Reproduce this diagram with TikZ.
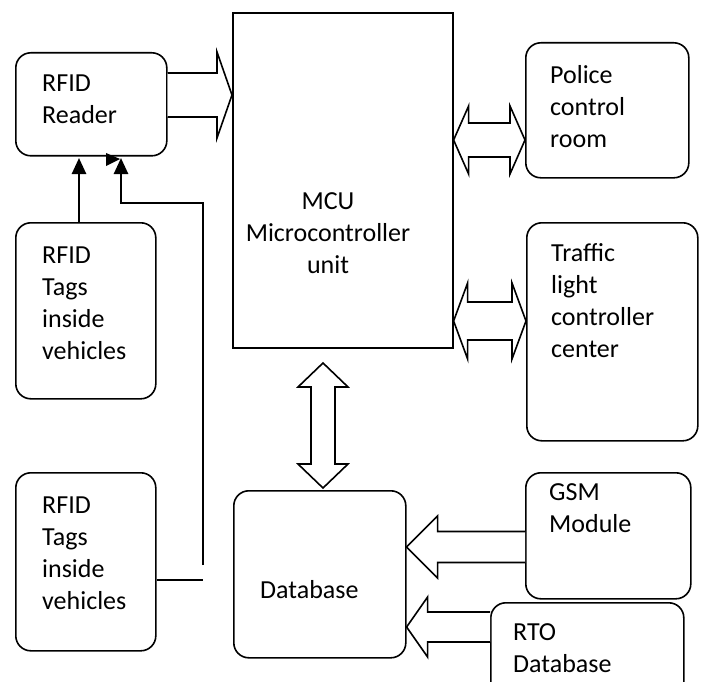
\documentclass[tikz,border=0pt]{standalone}
\usepackage{fontspec}
\setmainfont{Carlito}
\usetikzlibrary{calc,arrows.meta}

% single block arrow: tail, tip, shaft half-width, head half-width, head length (negative points left)
\newcommand\blockarrow[5]{%
  \draw[blk] ($(#1)+(0,-#3)$) -- ($(#2)+({-(#5)},-#3)$) -- ($(#2)+({-(#5)},-#4)$) -- (#2)
    -- ($(#2)+({-(#5)},#4)$) -- ($(#2)+({-(#5)},#3)$) -- ($(#1)+(0,#3)$);}
% horizontal double block arrow: left tip, right tip, shaft half, head half, head length
\newcommand\hdouble[5]{%
  \draw[blk] (#1) -- ($(#1)+(#5,-#4)$) -- ($(#1)+(#5,-#3)$) -- ($(#2)+(-#5,-#3)$)
    -- ($(#2)+(-#5,-#4)$) -- (#2) -- ($(#2)+(-#5,#4)$) -- ($(#2)+(-#5,#3)$)
    -- ($(#1)+(#5,#3)$) -- ($(#1)+(#5,#4)$) -- cycle;}
% vertical double block arrow: top tip, bottom tip, shaft half, head half, head length
\newcommand\vdouble[5]{%
  \draw[blk] (#1) -- ($(#1)+(#4,#5)$) -- ($(#1)+(#3,#5)$) -- ($(#2)+(#3,-#5)$)
    -- ($(#2)+(#4,-#5)$) -- (#2) -- ($(#2)+(-#4,-#5)$) -- ($(#2)+(-#3,-#5)$)
    -- ($(#1)+(-#3,#5)$) -- ($(#1)+(-#4,#5)$) -- cycle;}

\begin{document}
\begin{tikzpicture}[x=1pt,y=-1pt,
  box/.style={draw, line width=1.6pt, rounded corners=15pt, anchor=north west, inner sep=0pt},
  blk/.style={draw, line width=1.6pt, fill=white, line join=miter},
  lbl/.style={anchor=base west, inner sep=0pt, align=left, font=\fontsize{26}{32}\selectfont},
  sig/.style={line width=2.6pt, -{Triangle[width=14pt,length=16pt]}}]

\useasboundingbox (0,0) rectangle (704,682);
\clip (0,0) rectangle (704,682);

% blocks
\node[box, minimum width=151pt, minimum height=103pt] (reader) at (15,52) {};
\node[box, rounded corners=0pt, minimum width=220pt, minimum height=335pt] (mcu) at (232,12) {};
\node[box, minimum width=163pt, minimum height=135pt] (police) at (525,42) {};
\node[box, minimum width=171pt, minimum height=218pt] (traffic) at (526,222) {};
\node[box, minimum width=140pt, minimum height=176pt] (tags1) at (15,222) {};
\node[box, minimum width=140pt, minimum height=178pt] (tags2) at (15,472) {};
\node[box, minimum width=172pt, minimum height=167pt] (db) at (233,490) {};
\node[box, minimum width=165pt, minimum height=126pt] (gsm) at (525,472) {};
\node[box, minimum width=193pt, minimum height=110pt] (rto) at (490,602) {};

% labels (anchored at the baseline of their last line)
\node[lbl] (lreader) at (42,124) {RFID\\Reader};
\node[lbl, anchor=base, align=center] (lmcu) at (328,273) {MCU\\Microcontroller\\unit};
\node[lbl] (lpolice) at (550,147) {Police\\control\\room};
\node[lbl] (ltraffic) at (551,357) {Traffic\\light\\controller\\center};
\node[lbl] (ltags1) at (42,359) {RFID\\Tags\\inside\\vehicles};
\node[lbl] (ltags2) at (42,609) {RFID\\Tags\\inside\\vehicles};
\node[lbl] (ldb) at (260,598) {Database};
\node[lbl] (lgsm) at (549,532) {GSM\\Module};
\node[lbl] (lrto) at (513,672) {RTO\\Database};

% block arrows
\coordinate (rm1) at (reader.east |- 0,95);
\coordinate (rm2) at (mcu.west |- 0,95);
\blockarrow{rm1}{rm2}{22}{43}{15}

\coordinate (mp1) at (mcu.east |- 0,140);
\coordinate (mp2) at (police.west |- 0,140);
\hdouble{mp1}{mp2}{17}{34}{15}

\coordinate (mt1) at (mcu.east |- 0,321);
\coordinate (mt2) at (traffic.west |- 0,321);
\hdouble{mt1}{mt2}{19}{38}{14}

\coordinate (md1) at (323,363);
\coordinate (md2) at (323,488);
\vdouble{md1}{md2}{12}{25}{24}

\coordinate (gd1) at (gsm.west |- 0,547);
\coordinate (gd2) at (db.east |- 0,547);
\blockarrow{gd1}{gd2}{15.5}{31}{-31}

\coordinate (rd1) at (rto.west |- 0,627);
\coordinate (rd2) at (db.east |- 0,627);
\blockarrow{rd1}{rd2}{15}{30}{-21}

% tag signal lines
\coordinate (tip1) at (79,158);
\draw[sig] (tags1.north -| tip1) -- (tip1);
\coordinate (tip2) at (121,158);
\coordinate (bend) at (203,203);
\draw[sig] (203,565) -- (bend) -- (bend -| tip2) -- (tip2);
\draw[line width=1.6pt] (tags2.east |- 0,580) -- (bend |- 0,580);
\fill (106,153) -- (106,166) -- (120,159) -- cycle;
\end{tikzpicture}
\end{document}
